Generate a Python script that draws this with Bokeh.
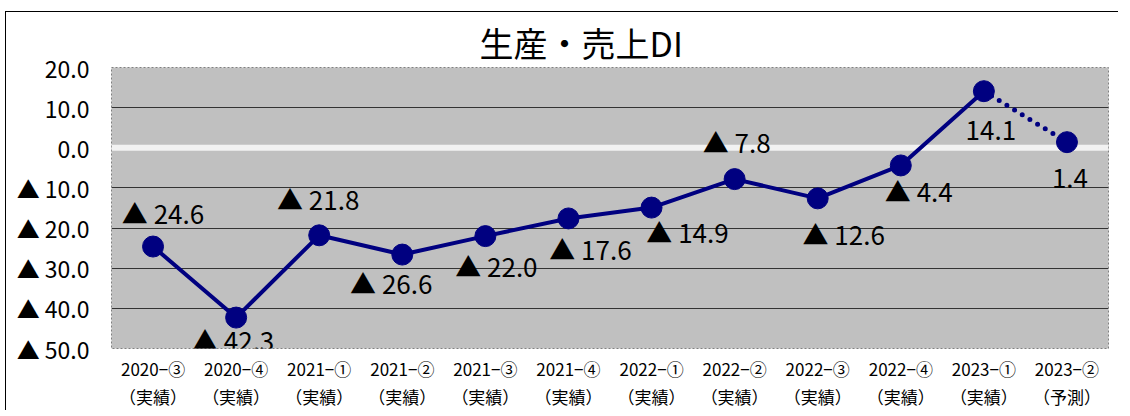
from bokeh.plotting import figure
from bokeh.models import FixedTicker, Span, ColumnDataSource, LinearAxis
from bokeh.core.properties import value
from bokeh.embed import file_html
from bokeh.resources import INLINE

categories = ["2020−③", "2020−④", "2021−①", "2021−②", "2021−③", "2021−④",
              "2022−①", "2022−②", "2022−③", "2022−④", "2023−①", "2023−②"]
kinds = ["（実績）"] * 11 + ["（予測）"]
di_values = [-24.6, -42.3, -21.8, -26.6, -22.0, -17.6, -14.9, -7.8, -12.6, -4.4, 14.1, 1.4]
y_ticks = [20, 10, 0, -10, -20, -30, -40, -50]

# label offsets (screen px) - layout only
lab_dx = [10, -3, -1, -11, 11, 22, 36, 2, 26, 18, 7, 3]
lab_dy = [-34, 22, -37, 28, 29, 30, 24, -38, 35, 25, 39, 36]

FONT = "Noto Sans CJK JP"
xs = [i + 0.5 for i in range(len(categories))]

p = figure(width=1113, height=399, x_range=(0, 12), y_range=(-50, 20),
           output_backend="svg", toolbar_location=None,
           min_border_left=105, min_border_right=11, min_border_top=55, min_border_bottom=56,
           background_fill_color="#c0c0c0", border_fill_color="white",
           styles={"border-left": "1px solid black", "border-top": "1px solid black",
                   "margin-top": "11px", "margin-left": "5px"})

p.title.text = "生産・売上DI"
p.title.text_font = FONT
p.title.text_font_size = "34px"
p.title.text_font_style = "normal"
p.title.text_color = "black"
p.title.align = "left"
p.title.offset = 368
p.title.standoff = 2

p.outline_line_color = "#808080"
p.outline_line_dash = "2 2"
p.outline_line_width = 1

p.xgrid.visible = False
p.ygrid.ticker = FixedTicker(ticks=[10, -10, -20, -30, -40])
p.ygrid.grid_line_color = "#333333"
p.ygrid.grid_line_width = 1
p.add_layout(Span(location=0, dimension="width", line_color="#f2f2f2", line_width=6,
                  level="underlay"))

p.yaxis.ticker = FixedTicker(ticks=y_ticks)
p.yaxis.major_label_overrides = {t: (f"{t:.1f}" if t >= 0 else f"▲ {abs(t):.1f}") for t in y_ticks}
p.yaxis.axis_line_color = None
p.yaxis.major_tick_line_color = None
p.yaxis.minor_tick_line_color = None
p.yaxis.major_tick_out = 0
p.yaxis.major_tick_in = 0
p.yaxis.minor_tick_out = 0
p.yaxis.major_label_text_font = FONT
p.yaxis.major_label_text_font_size = "23px"
p.yaxis.major_label_text_color = "black"
p.yaxis.major_label_standoff = 22


def style_x(ax, labels, standoff):
    ax.ticker = FixedTicker(ticks=xs)
    ax.major_label_overrides = {x: t for x, t in zip(xs, labels)}
    ax.axis_line_color = None
    ax.major_tick_line_color = None
    ax.minor_tick_line_color = None
    ax.major_tick_out = 0
    ax.major_tick_in = 0
    ax.minor_tick_out = 0
    ax.minor_tick_in = 0
    ax.major_label_text_font = FONT
    ax.major_label_text_font_size = "17px"
    ax.major_label_text_color = "black"
    ax.major_label_standoff = standoff


style_x(p.xaxis[0], categories, 7)
ax2 = LinearAxis()
style_x(ax2, kinds, 0)
p.add_layout(ax2, "below")

# solid part (actuals) and dotted forecast segment
p.line(xs[:11], di_values[:11], line_color="#000080", line_width=4)
p.line(xs[10:], di_values[10:], line_color="#000080", line_width=5,
       line_dash="0 9", line_cap="round")
p.scatter(xs, di_values, size=21, fill_color="#000080", line_color="#000080")

labels = [(f"{v:.1f}" if v >= 0 else f"▲ {abs(v):.1f}") for v in di_values]
src = ColumnDataSource(dict(x=xs, y=di_values, t=labels, dx=lab_dx, dy=lab_dy))
p.text(x="x", y="y", text="t", x_offset="dx", y_offset="dy", source=src,
       text_align="center", text_baseline="middle", text_font=value(FONT),
       text_font_size="26px", text_color="black")

open("out.html", "w").write(file_html(p, INLINE))
